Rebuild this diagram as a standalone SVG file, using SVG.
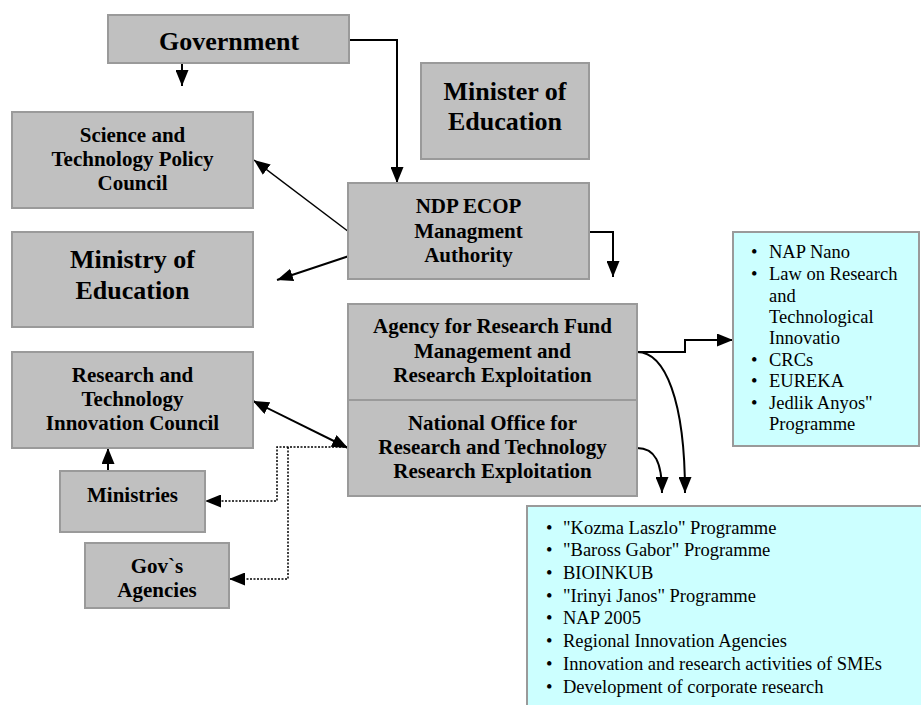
<svg xmlns="http://www.w3.org/2000/svg" width="921" height="705" viewBox="0 0 921 705">
  <style>
    .box { fill: #c0c0c0; stroke: #9a9a9a; stroke-width: 2; }
    .list { fill: #ccffff; stroke: #9a9a9a; stroke-width: 2; }
    .b21 { font-family: "Liberation Serif", "Times New Roman", serif; font-weight: bold; font-size: 21px; text-anchor: middle; fill: #000; }
    .b26 { font-family: "Liberation Serif", "Times New Roman", serif; font-weight: bold; font-size: 26px; text-anchor: middle; fill: #000; }
    .li { font-family: "Liberation Serif", "Times New Roman", serif; font-size: 18.5px; fill: #000; }
    .conn { fill: none; stroke: #000; stroke-width: 2; }
    .thin { fill: none; stroke: #000; stroke-width: 1.5; }
    .dot { fill: none; stroke: #000; stroke-width: 1.5; stroke-dasharray: 2 1.5; }
  </style>
  <defs>
    <marker id="arr" markerUnits="userSpaceOnUse" markerWidth="16" markerHeight="13" refX="16" refY="6.5" orient="auto">
      <path d="M0,0 L16,6.5 L0,13 z" fill="#000"/>
    </marker>
    <marker id="arrStart" markerUnits="userSpaceOnUse" markerWidth="16" markerHeight="13" refX="0" refY="6.5" orient="auto">
      <path d="M16,0 L0,6.5 L16,13 z" fill="#000"/>
    </marker>
  </defs>

  <!-- connectors -->
  <g id="connectors">
    <path class="conn" d="M182,63 L182,86" marker-end="url(#arr)"/>
    <path class="conn" d="M349,40 L397,40 L397,183" marker-end="url(#arr)"/>
    <path class="thin" d="M349,232 L254,160" marker-end="url(#arr)"/>
    <path class="conn" d="M349,256 L277,280" marker-end="url(#arr)"/>
    <path class="conn" d="M589,232 L613,232 L613,277" marker-end="url(#arr)"/>
    <path class="conn" d="M637,352 L685,352 L685,340 L733,340" marker-end="url(#arr)"/>
    <path class="conn" d="M637,352 C665,352 685,400 685,493" marker-end="url(#arr)"/>
    <path class="conn" d="M637,448 C655,448 662,462 662,493" marker-end="url(#arr)"/>
    <path class="conn" d="M253,401 L348,448" marker-start="url(#arrStart)" marker-end="url(#arr)"/>
    <path class="conn" d="M108,472 L108,448" marker-end="url(#arr)"/>
    <path class="dot" d="M348,447 L277,447 L277,501 L205,501" marker-end="url(#arr)"/>
    <path class="dot" d="M288,447 L288,579 L229,579" marker-end="url(#arr)"/>
  </g>

  <g id="government">
    <rect class="box" x="108" y="15" width="241" height="48"/>
    <text class="b26" x="229" y="50">Government</text>
  </g>

  <g id="minister">
    <rect class="box" x="421" y="63" width="168" height="96"/>
    <text class="b26" x="505" y="100">Minister of</text>
    <text class="b26" x="505" y="130">Education</text>
  </g>

  <g id="stpc">
    <rect class="box" x="12" y="112" width="241" height="96"/>
    <text class="b21" x="132.5" y="142">Science and</text>
    <text class="b21" x="132.5" y="166">Technology Policy</text>
    <text class="b21" x="132.5" y="190">Council</text>
  </g>

  <g id="ministry">
    <rect class="box" x="12" y="232" width="241" height="95"/>
    <text class="b26" x="132.5" y="268">Ministry of</text>
    <text class="b26" x="132.5" y="299">Education</text>
  </g>

  <g id="ndp">
    <rect class="box" x="348" y="183" width="241" height="96"/>
    <text class="b21" x="468.5" y="213">NDP ECOP</text>
    <text class="b21" x="468.5" y="238">Managment</text>
    <text class="b21" x="468.5" y="262">Authority</text>
  </g>

  <g id="agency">
    <rect class="box" x="348" y="304" width="289" height="96"/>
    <text class="b21" x="492.5" y="333">Agency for Research Fund</text>
    <text class="b21" x="492.5" y="358">Management and</text>
    <text class="b21" x="492.5" y="382">Research Exploitation</text>
  </g>

  <g id="office">
    <rect class="box" x="348" y="400" width="289" height="96"/>
    <text class="b21" x="492.5" y="430">National Office for</text>
    <text class="b21" x="492.5" y="454">Research and Technology</text>
    <text class="b21" x="492.5" y="478">Research Exploitation</text>
  </g>

  <g id="rtic">
    <rect class="box" x="12" y="352" width="241" height="96"/>
    <text class="b21" x="132.5" y="382">Research and</text>
    <text class="b21" x="132.5" y="406">Technology</text>
    <text class="b21" x="132.5" y="430">Innovation Council</text>
  </g>

  <g id="ministries">
    <rect class="box" x="60" y="471" width="145" height="61"/>
    <text class="b21" x="132.5" y="502">Ministries</text>
  </g>

  <g id="agencies">
    <rect class="box" x="85" y="543" width="144" height="65"/>
    <text class="b21" x="157" y="573">Gov`s</text>
    <text class="b21" x="157" y="597">Agencies</text>
  </g>

  <g id="programmes-top">
    <rect class="list" x="733" y="232" width="186" height="214"/>
    <g class="li">
      <text x="751" y="258">•</text><text x="769" y="258">NAP Nano</text>
      <text x="751" y="280">•</text><text x="769" y="280">Law on Research</text>
      <text x="769" y="302">and</text>
      <text x="769" y="323">Technological</text>
      <text x="769" y="344">Innovatio</text>
      <text x="751" y="366">•</text><text x="769" y="366">CRCs</text>
      <text x="751" y="387">•</text><text x="769" y="387">EUREKA</text>
      <text x="751" y="409">•</text><text x="769" y="409">Jedlik Anyos"</text>
      <text x="769" y="430">Programme</text>
    </g>
  </g>

  <g id="programmes-bottom">
    <rect class="list" x="527" y="506" width="400" height="210"/>
    <g class="li">
      <text x="546" y="534">•</text><text x="563" y="534">"Kozma Laszlo" Programme</text>
      <text x="546" y="556">•</text><text x="563" y="556">"Baross Gabor" Programme</text>
      <text x="546" y="579">•</text><text x="563" y="579">BIOINKUB</text>
      <text x="546" y="602">•</text><text x="563" y="602">"Irinyi Janos" Programme</text>
      <text x="546" y="624">•</text><text x="563" y="624">NAP 2005</text>
      <text x="546" y="647">•</text><text x="563" y="647">Regional Innovation Agencies</text>
      <text x="546" y="670">•</text><text x="563" y="670">Innovation and research activities of SMEs</text>
      <text x="546" y="693">•</text><text x="563" y="693">Development of corporate research</text>
    </g>
  </g>
</svg>
